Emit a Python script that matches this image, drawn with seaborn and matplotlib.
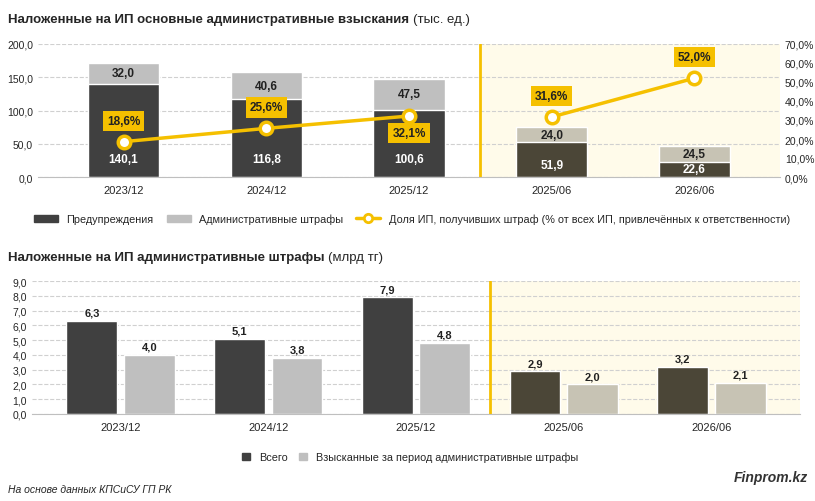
import numpy as np
import pandas as pd
import matplotlib
matplotlib.use("Agg")
import matplotlib.pyplot as plt
import seaborn as sns
from matplotlib.lines import Line2D
from matplotlib.patches import Patch

periods = ["2023/12", "2024/12", "2025/12", "2025/06", "2026/06"]
warnings_k = [140.1, 116.8, 100.6, 51.9, 22.6]
fines_k = [32.0, 40.6, 47.5, 24.0, 24.5]
share_pct = [18.6, 25.6, 32.1, 31.6, 52.0]
total_bn = [6.3, 5.1, 7.9, 2.9, 3.2]
collected_bn = [4.0, 3.8, 4.8, 2.0, 2.1]

YEL = "#f5c000"
DARK = ["#404040"] * 3 + ["#4b4637"] * 2
LIGHT = ["#bfbfbf"] * 3 + ["#c7c3b4"] * 2
SHADE = "#fffbea"

sns.set_style("white")
plt.rcParams["font.family"] = ["Liberation Sans", "DejaVu Sans"]

fig = plt.figure(figsize=(8.15, 5.02), dpi=100)
W, H = 815, 502


def px_axes(x0, y0, x1, y1):
    return fig.add_axes([x0 / W, 1 - y1 / H, (x1 - x0) / W, (y1 - y0) / H])


def fmt(v, pct=False):
    return (f"{v:.1f}%" if pct else f"{v:.1f}").replace(".", ",")


def title(y, bold, plain):
    t = fig.text(8 / W, 1 - y / H, bold, fontsize=9.5, fontweight="bold", va="center")
    fig.canvas.draw()
    bb = t.get_window_extent()
    fig.text((bb.x1 + 4) / W, 1 - y / H, plain, fontsize=9.5, va="center")


def style_axes(a, ymax, step):
    ticks = np.arange(0, ymax + step / 2, step)
    a.set_xlim(-0.6, 4.6)
    a.set_ylim(0, ymax)
    a.set_yticks(ticks)
    a.set_yticklabels([fmt(v) for v in ticks], fontsize=7.5)
    a.yaxis.grid(True, ls="--", color="#d0d0d0", lw=0.8)
    a.set_axisbelow(True)
    a.set_xlabel("")
    a.set_ylabel("")
    a.tick_params(axis="x", labelsize=8, length=0, pad=6)
    a.tick_params(axis="y", length=0)
    for s in ["top", "right", "left"]:
        a.spines[s].set_visible(False)
    a.spines["bottom"].set_color("#bfbfbf")


df = pd.DataFrame({"period": periods, "warn": warnings_k, "fine": fines_k})
df["stack"] = df["warn"] + df["fine"]

# ---- top chart
ax = px_axes(38, 45, 780, 178)
ax.axvspan(2.5, 4.6, color=SHADE, zorder=0, lw=0)
ax.axvline(2.5, color=YEL, lw=2, zorder=1)
sns.barplot(data=df, x="period", y="stack", color="#bfbfbf", width=0.5, ax=ax, zorder=2)
sns.barplot(data=df, x="period", y="warn", color="#404040", width=0.5, ax=ax, zorder=2)
for p, c in zip(ax.containers[0], LIGHT):
    p.set_facecolor(c)
for p, c in zip(ax.containers[1], DARK):
    p.set_facecolor(c)
style_axes(ax, 200, 50)
for i in range(5):
    v = warnings_k[i]
    ly = v / 2 if v < 30 else min(27, 0.36 * v)  # labels sit low in the dark segment
    ax.text(i, ly, fmt(v), ha="center", va="center",
            color="white", fontsize=8.5, fontweight="bold", zorder=3)
    ax.text(i, v + fines_k[i] / 2, fmt(fines_k[i]), ha="center", va="center",
            color="#222222", fontsize=8.5, fontweight="bold", zorder=3)

ax2 = ax.twinx()
ax2.set_ylim(0, 70)
ax2.set_yticks(np.arange(0, 71, 10))
ax2.set_yticklabels([fmt(v, True) for v in np.arange(0, 71, 10)], fontsize=7.5)
ax2.tick_params(length=0)
for s in ax2.spines.values():
    s.set_visible(False)
for seg in (slice(0, 3), slice(3, 5)):
    xs = list(range(5))[seg]
    ax2.plot(xs, share_pct[seg], color=YEL, lw=2.5, marker="o", ms=9,
             mfc="white", mec=YEL, mew=2.5, zorder=5)
offs = [11, 11, -9, 11, 11]
for i, v in enumerate(share_pct):
    ax2.text(i, v + offs[i], fmt(v, True), ha="center", va="center", fontsize=8.5,
             fontweight="bold", color="#222222", zorder=6,
             bbox=dict(boxstyle="square,pad=0.35", fc=YEL, ec="none"))

title(20, "Наложенные на ИП основные административные взыскания", "(тыс. ед.)")
h1 = [Patch(color="#404040"), Patch(color="#bfbfbf"),
      Line2D([], [], color=YEL, lw=2.5, marker="o", mfc="white", mec=YEL, mew=2)]
fig.legend(h1, ["Предупреждения", "Административные штрафы",
                "Доля ИП, получивших штраф (% от всех ИП, привлечённых к ответственности)"],
           loc="center", bbox_to_anchor=(412 / W, 1 - 220 / H), ncol=3, frameon=False, fontsize=7.8,
           handlelength=2.2, columnspacing=1.2)

# ---- bottom chart
bx = px_axes(32, 282, 800, 415)
bx.axvspan(2.5, 4.6, color=SHADE, zorder=0, lw=0)
bx.axvline(2.5, color=YEL, lw=2, zorder=1)
long = pd.DataFrame({"period": periods * 2, "val": total_bn + collected_bn,
                     "kind": ["total"] * 5 + ["coll"] * 5})
sns.barplot(data=long, x="period", y="val", hue="kind", palette=["#404040", "#bfbfbf"],
            width=0.78, gap=0.12, ax=bx, legend=False, zorder=2)
for cont, cols in zip(bx.containers, [DARK, LIGHT]):
    for p, c in zip(cont, cols):
        p.set_facecolor(c)
        h = p.get_height()
        bx.text(p.get_x() + p.get_width() / 2, h + 0.55, fmt(h), ha="center", va="center",
                fontsize=8, fontweight="bold", color="#222222")
style_axes(bx, 9, 1)

title(258, "Наложенные на ИП административные штрафы", "(млрд тг)")
fig.legend([Patch(color="#404040"), Patch(color="#bfbfbf")],
           ["Всего", "Взысканные за период административные штрафы"],
           loc="center", bbox_to_anchor=(410 / W, 1 - 458 / H), ncol=2, frameon=False, fontsize=7.8,
           handlelength=0.8, columnspacing=1.0)
fig.text(8 / W, 1 - 490 / H, "На основе данных КПСиСУ ГП РК", fontsize=7.5, style="italic", va="center")
fig.text(808 / W, 1 - 478 / H, "Finprom.kz", fontsize=10, style="italic", fontweight="bold",
         ha="right", va="center", color="#333333")

fig.savefig("out.png", dpi=100)
